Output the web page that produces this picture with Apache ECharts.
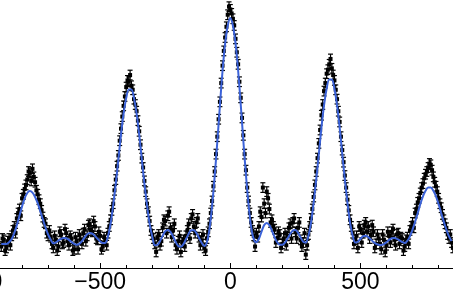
<!DOCTYPE html>
<html>
<head>
<meta charset="utf-8">
<script src="https://cdn.jsdelivr.net/npm/echarts@6/dist/echarts.min.js"></script>
<style>html,body{margin:0;padding:0;background:#fff;}#c{width:453px;height:290px;}</style>
</head>
<body>
<div id="c"></div>
<script>
const xValues = [
-880,-870,-860,-850,-840,-830,-820,-810,-800,-790,
-780,-770,-760,-750,-740,-730,-720,-710,-700,-690,
-680,-670,-660,-650,-640,-630,-620,-610,-600,-590,
-580,-570,-560,-550,-540,-530,-520,-510,-500,-490,
-480,-470,-460,-450,-440,-430,-420,-410,-400,-390,
-380,-370,-360,-350,-340,-330,-320,-310,-300,-290,
-280,-270,-260,-250,-240,-230,-220,-210,-200,-190,
-180,-170,-160,-150,-140,-130,-120,-110,-100,-90,
-80,-70,-60,-50,-40,-30,-20,-10,0,10,
20,30,40,50,60,70,80,90,100,110,
120,130,140,150,160,170,180,190,200,210,
220,230,240,250,260,270,280,290,300,310,
320,330,340,350,360,370,380,390,400,410,
420,430,440,450,460,470,480,490,500,510,
520,530,540,550,560,570,580,590,600,610,
620,630,640,650,660,670,680,690,700,710,
720,730,740,750,760,770,780,790,800,810,
820,830,840,850
];
const fitValues = [
9.0, 9.0, 9.0, 9.6, 10.8, 13.0, 16.0, 19.5, 23.0, 26.0,
28.0, 28.7, 28.1, 26.5, 24.2, 21.2, 18.1, 15.1, 12.5, 10.6,
9.2, 9.6, 10.3, 10.9, 11.2, 11.1, 10.5, 9.7, 9.0, 8.7,
9.0, 10.0, 11.4, 12.6, 13.1, 12.8, 12.0, 10.9, 9.9, 9.3,
9.4, 11.8, 16.5, 23.4, 31.5, 40.5, 49.8, 57.6, 63.4, 66.6,
66.6, 63.4, 57.6, 49.8, 40.5, 31.5, 23.4, 16.5, 11.8, 8.5,
8.6, 10.0, 12.0, 13.7, 14.2, 13.5, 11.8, 9.7, 8.2, 7.9,
8.9, 10.8, 12.8, 14.1, 14.1, 13.0, 11.2, 9.4, 8.2, 9.6,
14.7, 23.2, 34.3, 47.0, 60.6, 73.4, 83.6, 90.4, 93.3, 90.4,
83.8, 73.7, 61.0, 47.5, 34.8, 23.7, 15.3, 10.8, 9.6, 10.9,
13.6, 16.0, 16.8, 16.0, 13.9, 11.5, 9.6, 8.7, 8.7, 9.5,
11.0, 12.7, 14.0, 14.2, 13.2, 11.4, 9.8, 9.5, 12.0, 16.9,
24.3, 33.0, 42.5, 52.4, 60.7, 66.9, 70.3, 70.3, 66.9, 60.7,
52.4, 42.5, 33.0, 24.3, 16.9, 12.0, 9.5, 9.8, 10.9, 11.8,
12.0, 11.5, 10.6, 9.7, 9.0, 8.7, 8.6, 8.9, 9.6, 10.5,
11.1, 11.2, 10.9, 10.3, 9.7, 9.3, 10.1, 11.8, 14.3, 17.3,
20.5, 23.9, 26.7, 28.8, 30.0, 30.0, 28.8, 26.7, 23.9, 20.5,
17.3, 14.3, 11.8, 10.1
];
const dataValues = [
8.0, 10.5, 7.5, 11.0, 12.0, 15.5, 18.5, 22.0, 26.0, 29.5,
33.0, 35.5, 37.0, 32.0, 27.5, 24.0, 19.0, 16.5, 12.0, 11.5,
7.5, 10.5, 8.0, 12.5, 9.5, 13.0, 8.5, 11.0, 7.0, 10.0,
12.5, 9.0, 14.5, 12.0, 16.5, 13.5, 15.5, 10.5, 12.0, 8.0,
10.5, 13.0, 18.0, 24.0, 33.0, 42.0, 52.0, 60.5, 67.5, 69.5,
68.0, 63.0, 58.5, 51.0, 41.0, 32.5, 24.0, 17.5, 12.5, 9.0,
11.5, 8.5, 15.0, 17.5, 19.5, 15.0, 14.0, 8.5, 10.0, 6.0,
10.5, 12.0, 16.5, 18.5, 15.5, 17.0, 11.5, 10.0, 7.5, 11.0,
16.5, 25.0, 36.0, 49.0, 62.0, 75.5, 86.0, 94.5, 96.5, 93.0,
85.5, 76.0, 63.5, 49.5, 36.5, 25.0, 17.0, 12.0, 13.0, 15.5,
19.0, 24.0, 28.5, 22.0, 18.0, 14.5, 11.0, 12.5, 9.0, 13.0,
12.0, 16.5, 17.0, 13.5, 15.0, 10.5, 9.5, 5.0, 12.5, 18.5,
26.5, 36.0, 46.5, 57.0, 66.0, 72.5, 76.0, 74.5, 70.0, 63.0,
54.5, 44.0, 34.5, 25.5, 18.0, 13.0, 10.5, 7.5, 14.5, 13.0,
17.0, 15.5, 12.5, 13.5, 9.0, 11.0, 7.0, 10.5, 8.5, 12.0,
13.5, 10.5, 12.5, 9.0, 11.0, 8.0, 11.5, 14.0, 17.0, 20.5,
24.5, 28.0, 31.5, 35.0, 37.5, 38.5, 34.0, 30.5, 26.0, 22.5,
18.0, 15.0, 11.0, 9.5
];
const xMidValues = [
-875,-865,-855,-845,-835,-825,-815,-805,-795,-785,
-775,-765,-755,-745,-735,-725,-715,-705,-695,-685,
-675,-665,-655,-645,-635,-625,-615,-605,-595,-585,
-575,-565,-555,-545,-535,-525,-515,-505,-495,-485,
-475,-465,-455,-445,-435,-425,-415,-405,-395,-385,
-375,-365,-355,-345,-335,-325,-315,-305,-295,-285,
-275,-265,-255,-245,-235,-225,-215,-205,-195,-185,
-175,-165,-155,-145,-135,-125,-115,-105,-95,-85,
-75,-65,-55,-45,-35,-25,-15,-5,5,15,
25,35,45,55,65,75,85,95,105,115,
125,135,145,155,165,175,185,195,205,215,
225,235,245,255,265,275,285,295,305,315,
325,335,345,355,365,375,385,395,405,415,
425,435,445,455,465,475,485,495,505,515,
525,535,545,555,565,575,585,595,605,615,
625,635,645,655,665,675,685,695,705,715,
725,735,745,755,765,775,785,795,805,815,
825,835,845,855
];
const dataMidValues = [
11.0, 6.5, 10.0, 8.5, 14.0, 13.0, 20.5, 19.5, 27.5, 31.0,
36.0, 32.5, 34.0, 29.0, 25.5, 21.5, 17.0, 13.0, 14.0, 9.0,
12.0, 6.5, 13.5, 9.0, 14.5, 10.0, 12.0, 6.5, 11.5, 7.0,
10.5, 13.0, 10.0, 16.0, 14.0, 17.5, 11.0, 13.5, 7.0, 11.5,
8.5, 15.5, 21.5, 29.0, 38.0, 47.5, 56.5, 64.0, 70.0, 72.0,
66.5, 61.0, 55.0, 46.0, 37.5, 28.5, 21.0, 14.0, 11.0, 6.0,
12.5, 10.0, 18.0, 13.0, 21.0, 11.5, 16.5, 7.0, 12.0, 9.5,
8.0, 14.0, 11.0, 20.0, 13.0, 18.5, 8.5, 12.5, 6.5, 13.5,
20.5, 30.5, 42.5, 55.5, 69.0, 81.0, 90.0, 97.5, 95.0, 90.5,
80.5, 69.5, 56.0, 42.5, 30.0, 20.5, 14.0, 8.0, 11.5, 21.0,
30.0, 20.5, 26.0, 17.0, 15.5, 9.5, 13.5, 7.5, 11.0, 8.5,
15.0, 11.0, 18.5, 11.0, 17.0, 8.0, 13.0, 8.5, 15.5, 22.0,
31.0, 41.0, 51.5, 61.0, 69.0, 74.0, 78.0, 72.0, 66.5, 58.5,
49.0, 39.5, 30.0, 21.5, 15.5, 9.0, 12.0, 15.5, 9.5, 16.0,
13.5, 11.0, 16.0, 7.5, 12.5, 9.0, 12.5, 6.0, 13.5, 9.5,
14.5, 8.5, 13.0, 11.5, 6.5, 10.5, 9.0, 15.5, 15.0, 22.0,
26.0, 30.0, 33.5, 36.0, 39.0, 36.5, 32.0, 28.5, 24.0, 20.0,
16.5, 12.5, 12.5, 7.5
];
const errorHalf = 1.8;
const majorTickStep = 500;
const minorTickStep = 100;
const xMin = -1000, xMax = 890;

const chart = echarts.init(document.getElementById('c'), null, {renderer: 'canvas'});
const pts = xValues.map((x, i) => [x, dataValues[i]])
  .concat(xMidValues.map((x, i) => [x, dataMidValues[i]]));
const fit = xValues.map((x, i) => [x, fitValues[i]]);
const fmt = v => (v < 0 ? '\u2212' + Math.abs(v) : String(v));

chart.setOption({
  backgroundColor: '#ffffff',
  animation: false,
  grid: {left: -30, right: -9, top: 0, bottom: 22, containLabel: false, outerBoundsMode: 'none'},
  xAxis: [
    {
      type: 'value', min: xMin, max: xMax, interval: majorTickStep, position: 'bottom',
      axisLine: {show: true, lineStyle: {color: '#000', width: 1}},
      axisTick: {show: true, inside: true, length: 5, lineStyle: {color: '#000', width: 1}},
      axisLabel: {show: true, formatter: fmt, color: '#000', fontSize: 23, fontFamily: 'Liberation Sans', margin: 3, showMaxLabel: false, hideOverlap: false},
      splitLine: {show: false}
    },
    {
      type: 'value', min: xMin, max: xMax, interval: minorTickStep, position: 'bottom',
      axisLine: {show: false},
      axisTick: {show: true, inside: true, length: 3, lineStyle: {color: '#000', width: 1}},
      axisLabel: {show: false},
      splitLine: {show: false}
    }
  ],
  yAxis: {type: 'value', min: 0, max: 100, show: false},
  series: [
    {
      type: 'custom',
      xAxisIndex: 0,
      data: pts,
      renderItem: function (params, api) {
        const x = api.value(0), y = api.value(1);
        const c = api.coord([x, y]);
        const t = api.coord([x, y + errorHalf]);
        const b = api.coord([x, y - errorHalf]);
        const st = {stroke: '#000', lineWidth: 1.2};
        return {
          type: 'group',
          children: [
            {type: 'line', shape: {x1: c[0], y1: t[1], x2: c[0], y2: b[1]}, style: st},
            {type: 'line', shape: {x1: c[0] - 2.5, y1: t[1], x2: c[0] + 2.5, y2: t[1]}, style: st},
            {type: 'line', shape: {x1: c[0] - 2.5, y1: b[1], x2: c[0] + 2.5, y2: b[1]}, style: st},
            {type: 'rect', shape: {x: c[0] - 2, y: c[1] - 2, width: 4, height: 4}, style: {fill: '#000'}}
          ]
        };
      },
      z: 2
    },
    {
      type: 'line',
      xAxisIndex: 0,
      data: fit,
      showSymbol: false,
      smooth: 0.3,
      lineStyle: {color: '#3b62d8', width: 2},
      z: 3
    }
  ]
});
</script>
</body>
</html>
